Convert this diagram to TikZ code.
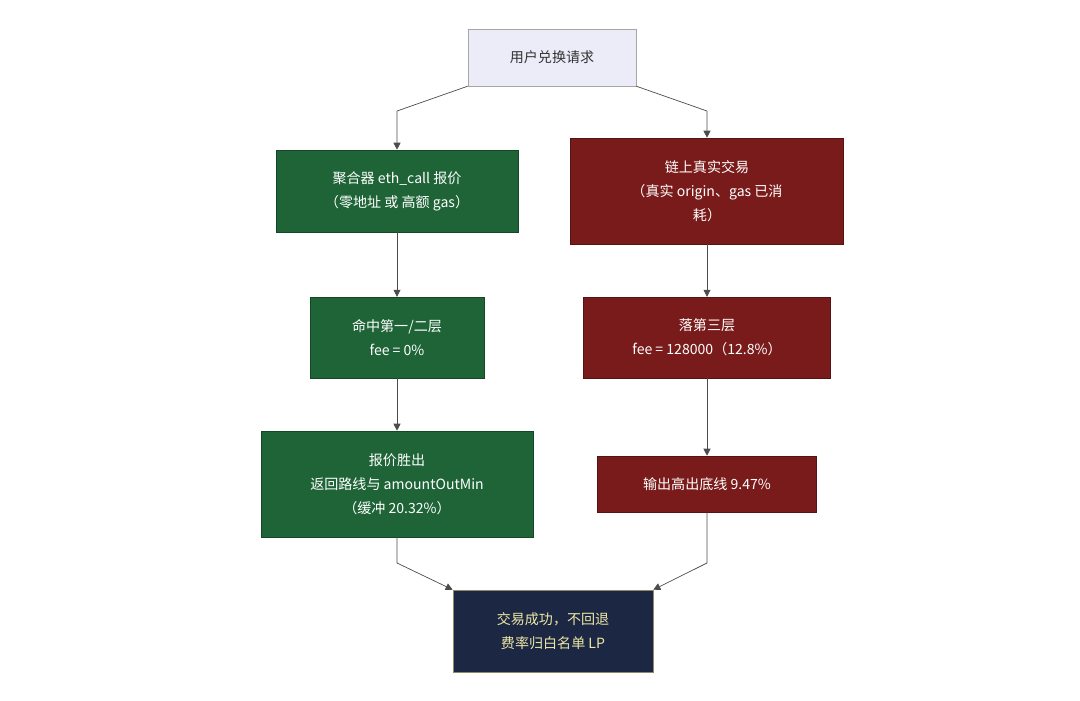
\documentclass[tikz,border=0pt]{standalone}
\usepackage{fontspec}
\setmainfont{Noto Sans CJK SC}
\usetikzlibrary{arrows.meta}
\definecolor{okgreen}{HTML}{1E6437}
\definecolor{badred}{HTML}{7A1B1B}
\definecolor{navybox}{HTML}{1C2743}
\definecolor{startfill}{HTML}{ECECF8}
\definecolor{paleyellow}{HTML}{ECE7A6}
\tikzset{
  box/.style={draw, align=center, inner sep=2pt, font=\fontsize{10}{17}\selectfont},
  startbox/.style={box, fill=startfill, draw=gray!70, text=black!80},
  greenbox/.style={box, fill=okgreen, draw=okgreen!70!black, text=white},
  redbox/.style={box, fill=badred, draw=badred!70!black, text=white},
  endbox/.style={box, fill=navybox, draw=paleyellow!60!black, text=paleyellow},
  flow/.style={draw=black!70, line width=0.5pt, -{Triangle[length=5pt,width=5pt]}}
}
\begin{document}
\begin{tikzpicture}[x=0.025cm, y=-0.025cm]
  \useasboundingbox (0,0) rectangle (1080,700);
  \node[startbox, minimum width=4.2cm, minimum height=1.42cm] (req) at (552,57.5) {用户兑换请求};
  % left branch
  \node[greenbox, minimum width=6.05cm, minimum height=2.05cm] (quote) at (397,191) {聚合器 eth\_call 报价\\（零地址 或 高额 gas）};
  \node[greenbox, minimum width=4.35cm, minimum height=2.02cm] (hitl) at (397,337.5) {命中第一/二层\\fee = 0\%};
  \node[greenbox, minimum width=6.8cm, minimum height=2.65cm] (win) at (397,484) {报价胜出\\返回路线与 amountOutMin\\（缓冲 20.32\%）};
  % right branch
  \node[redbox, minimum width=6.82cm, minimum height=2.65cm] (chain) at (707,191) {链上真实交易\\（真实 origin、gas 已消\\耗）};
  \node[redbox, minimum width=6.18cm, minimum height=2.02cm] (third) at (707,337.5) {落第三层\\fee = 128000（12.8\%）};
  \node[redbox, minimum width=5.48cm, minimum height=1.4cm] (out) at (707,484) {输出高出底线 9.47\%};
  % result
  \node[endbox, minimum width=5cm, minimum height=2.05cm] (done) at (553,631) {交易成功，不回退\\费率归白名单 LP};
  \coordinate (lt) at (397,111);
  \coordinate (rt) at (707,111);
  \coordinate (lb) at (397,563);
  \coordinate (rb) at (707,563);
  \draw[flow] (req.south west) -- (lt) -- (quote.north);
  \draw[flow] (req.south east) -- (rt) -- (chain.north);
  \draw[flow] (quote) -- (hitl);
  \draw[flow] (hitl) -- (win);
  \draw[flow] (chain) -- (third);
  \draw[flow] (third) -- (out);
  \draw[flow] (win.south) -- (lb) -- (done.north west);
  \draw[flow] (out.south) -- (rb) -- (done.north east);
\end{tikzpicture}
\end{document}
